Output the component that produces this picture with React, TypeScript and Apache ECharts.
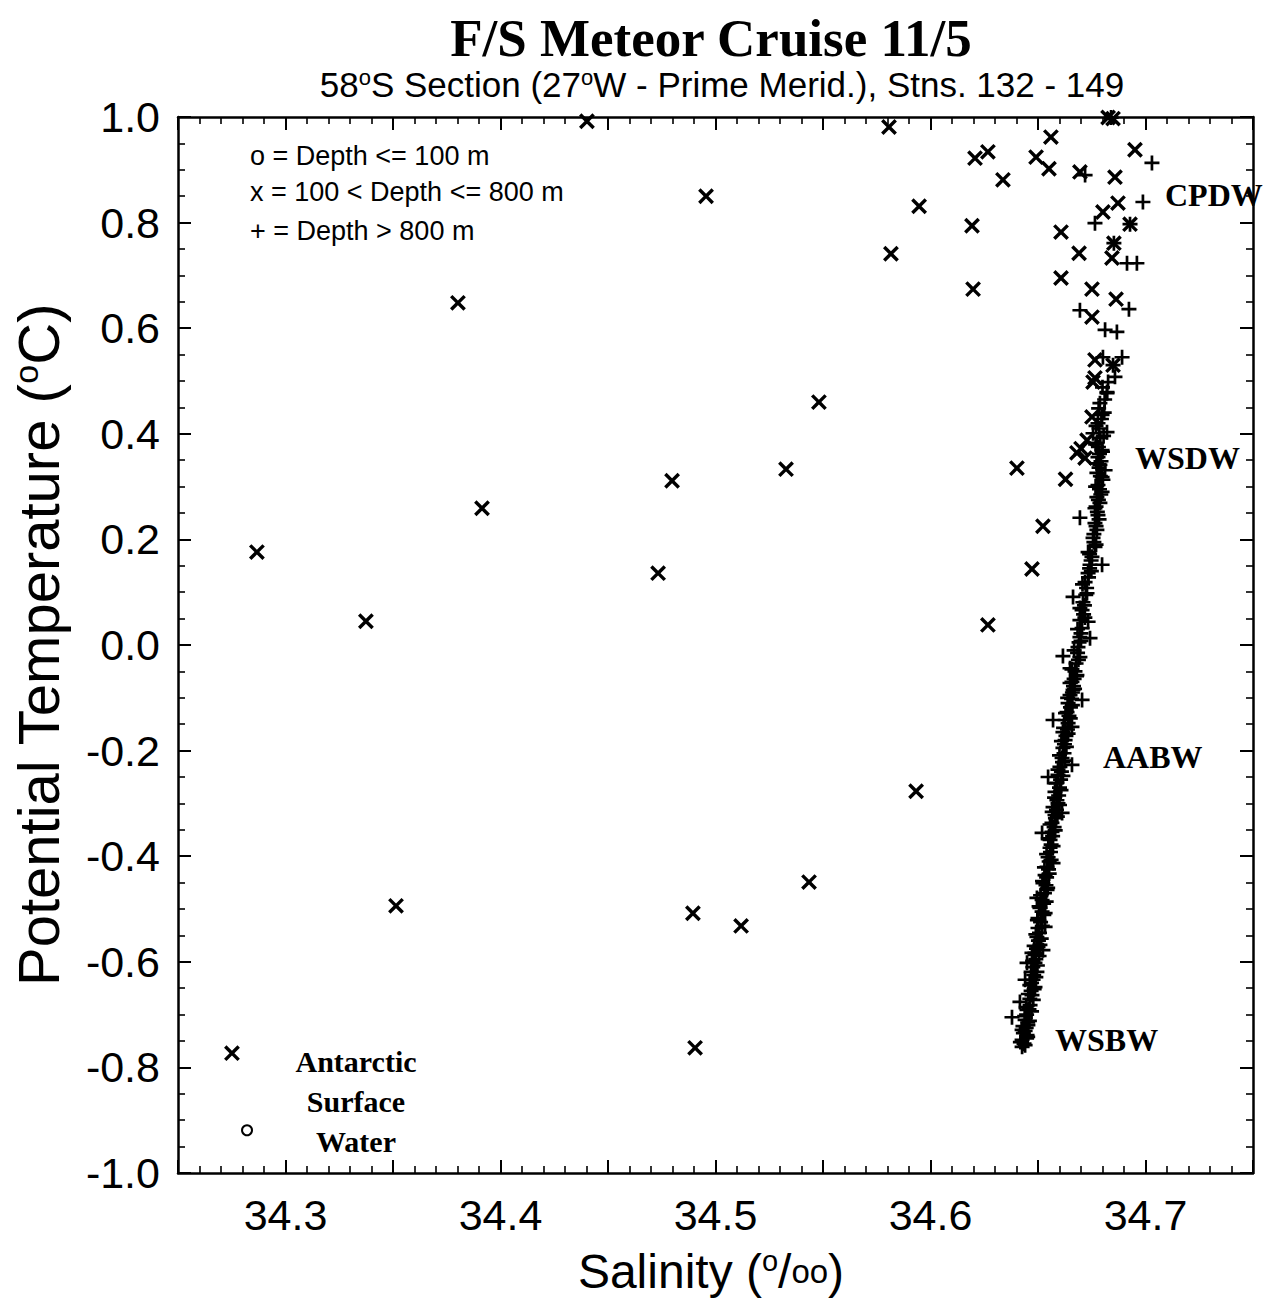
import React, { useEffect, useRef } from "react";
import * as echarts from "echarts";

// ---------- data (salinity, potential temperature) ----------
const shallowPoints: [number, number][] = [[34.2821, -0.919]];

const midPoints: [number, number][] = [
  [34.2751, -0.773], [34.2867, 0.176], [34.3374, 0.045], [34.3514, -0.494], [34.3802, 0.648],
  [34.3914, 0.259], [34.4402, 0.992], [34.4956, 0.850], [34.4798, 0.311], [34.4733, 0.136],
  [34.4895, -0.508], [34.4905, -0.763], [34.5119, -0.532], [34.5328, 0.333], [34.5481, 0.460],
  [34.5435, -0.449], [34.5807, 0.981], [34.5816, 0.741], [34.5947, 0.831], [34.5933, -0.277],
  [34.6193, 0.794], [34.6207, 0.922], [34.6267, 0.934], [34.6198, 0.674], [34.6337, 0.881],
  [34.6491, 0.924], [34.6560, 0.962], [34.6551, 0.902], [34.6402, 0.335], [34.6267, 0.038],
  [34.6472, 0.144], [34.6523, 0.225], [34.6607, 0.782], [34.6607, 0.695], [34.6691, 0.742],
  [34.6695, 0.896], [34.6858, 0.886], [34.6872, 0.837], [34.6951, 0.938], [34.6802, 0.820],
  [34.6928, 0.797], [34.6853, 0.761], [34.6844, 0.733], [34.6751, 0.674], [34.6863, 0.655],
  [34.6751, 0.621], [34.6765, 0.540], [34.6849, 0.530], [34.6765, 0.506], [34.6826, 0.999],
  [34.6849, 0.997], [34.6756, 0.498], [34.6751, 0.432], [34.6681, 0.364], [34.6719, 0.354],
  [34.6628, 0.314], [34.6728, 0.388], [34.6700, 0.372],
];

const deepPoints: [number, number][] = [
  [34.6840, 0.999], [34.6719, 0.890], [34.7030, 0.913], [34.6988, 0.839], [34.6765, 0.799],
  [34.6928, 0.797], [34.6853, 0.761], [34.6914, 0.723], [34.6960, 0.723], [34.6923, 0.636],
  [34.6695, 0.634], [34.6812, 0.597], [34.6867, 0.593], [34.6802, 0.545], [34.6849, 0.530],
  [34.6891, 0.545], [34.6858, 0.508], [34.6821, 0.479],
  [34.6826, 0.498], [34.6821, 0.477], [34.6788, 0.458], [34.6798, 0.436], [34.6779, 0.420],
  [34.6821, 0.403], [34.6756, 0.401], [34.6774, 0.383], [34.6798, 0.369], [34.6779, 0.356],
  [34.6788, 0.341], [34.6812, 0.331], [34.6774, 0.326], [34.6802, 0.313], [34.6779, 0.303],
  [34.6798, 0.290], [34.6774, 0.280], [34.6788, 0.269], [34.6765, 0.259], [34.6779, 0.246],
  [34.6695, 0.241], [34.6765, 0.231], [34.6774, 0.218], [34.6756, 0.203], [34.6765, 0.186],
  [34.6733, 0.176], [34.6751, 0.167], [34.6798, 0.152], [34.6742, 0.152], [34.6733, 0.136],
  [34.6719, 0.119], [34.6663, 0.091], [34.6728, 0.098], [34.6709, 0.081], [34.6705, 0.066],
  [34.6695, 0.047], [34.6733, 0.044], [34.6705, 0.032], [34.6695, 0.015], [34.6742, 0.013],
  [34.6686, -0.004], [34.6616, -0.021], [34.6695, -0.023],
  [34.6649, -0.044], [34.6681, -0.057], [34.6658, -0.070], [34.6663, -0.085], [34.6705, -0.104],
  [34.6649, -0.095], [34.6640, -0.110], [34.6635, -0.127], [34.6570, -0.142], [34.6626, -0.142],
  [34.6658, -0.155], [34.6616, -0.165], [34.6626, -0.180], [34.6616, -0.195], [34.6658, -0.227],
  [34.6612, -0.214], [34.6602, -0.231], [34.6547, -0.250], [34.6593, -0.246], [34.6588, -0.261],
  [34.6579, -0.278], [34.6588, -0.294], [34.6570, -0.307], [34.6612, -0.318], [34.6579, -0.322],
  [34.6565, -0.337], [34.6519, -0.356], [34.6565, -0.354], [34.6556, -0.369], [34.6556, -0.384],
  [34.6547, -0.402], [34.6570, -0.413], [34.6542, -0.420], [34.6533, -0.436], [34.6523, -0.451],
  [34.6542, -0.464], [34.6495, -0.479], [34.6519, -0.483], [34.6509, -0.498], [34.6533, -0.508],
  [34.6500, -0.517], [34.6533, -0.534], [34.6500, -0.536], [34.6495, -0.553], [34.6509, -0.568],
  [34.6472, -0.583], [34.6486, -0.583],
  [34.6500, -0.572], [34.6523, -0.578], [34.6486, -0.587], [34.6449, -0.602], [34.6486, -0.602],
  [34.6495, -0.619], [34.6477, -0.634], [34.6440, -0.634], [34.6486, -0.648], [34.6472, -0.663],
  [34.6463, -0.682], [34.6416, -0.676], [34.6449, -0.691], [34.6379, -0.705], [34.6440, -0.710],
  [34.6453, -0.720], [34.6426, -0.729], [34.6449, -0.739], [34.6426, -0.748], [34.6440, -0.758],
  [34.6426, -0.761],
  [34.6435, -0.755], [34.6447, -0.745], [34.6432, -0.735], [34.6445, -0.725], [34.6452, -0.715],
  [34.6447, -0.700], [34.6458, -0.690], [34.6462, -0.670], [34.6468, -0.655], [34.6470, -0.640],
  [34.6480, -0.625], [34.6476, -0.610], [34.6490, -0.595], [34.6493, -0.575], [34.6502, -0.560],
  [34.6507, -0.545], [34.6512, -0.525], [34.6519, -0.505], [34.6526, -0.490], [34.6530, -0.470],
  [34.6537, -0.455], [34.6540, -0.440], [34.6549, -0.425], [34.6552, -0.410], [34.6558, -0.392],
  [34.6561, -0.378], [34.6568, -0.362], [34.6575, -0.345], [34.6581, -0.328], [34.6586, -0.312],
  [34.6593, -0.300], [34.6596, -0.285], [34.6600, -0.270], [34.6605, -0.255], [34.6609, -0.240],
  [34.6614, -0.222], [34.6621, -0.205], [34.6623, -0.188], [34.6630, -0.172], [34.6637, -0.160],
  [34.6640, -0.148], [34.6644, -0.134], [34.6651, -0.118], [34.6656, -0.102], [34.6660, -0.090],
  [34.6665, -0.078], [34.6668, -0.064], [34.6672, -0.050], [34.6677, -0.035], [34.6684, -0.015],
  [34.6691, 0.005], [34.6700, 0.022], [34.6712, 0.058], [34.6716, 0.075], [34.6726, 0.108],
  [34.6735, 0.128], [34.6740, 0.145], [34.6747, 0.160], [34.6760, 0.195], [34.6770, 0.225],
  [34.6776, 0.252], [34.6781, 0.275], [34.6786, 0.295], [34.6790, 0.320], [34.6784, 0.336],
  [34.6793, 0.348], [34.6786, 0.362], [34.6781, 0.375], [34.6790, 0.392], [34.6784, 0.410],
  [34.6795, 0.428],
  [34.6418, -0.752], [34.6452, -0.742], [34.6440, -0.731], [34.6430, -0.722], [34.6460, -0.712],
  [34.6438, -0.703], [34.6470, -0.694], [34.6445, -0.686], [34.6478, -0.672], [34.6455, -0.661],
  [34.6482, -0.652], [34.6462, -0.644], [34.6490, -0.629], [34.6468, -0.619], [34.6497, -0.607],
  [34.6475, -0.598], [34.6505, -0.589], [34.6482, -0.570], [34.6515, -0.556], [34.6490, -0.548],
  [34.6520, -0.532], [34.6497, -0.521], [34.6527, -0.511], [34.6505, -0.495], [34.6538, -0.486],
  [34.6512, -0.474], [34.6545, -0.460], [34.6521, -0.447], [34.6552, -0.433], [34.6530, -0.421],
  [34.6561, -0.407], [34.6540, -0.396], [34.6570, -0.381], [34.6548, -0.366], [34.6580, -0.351],
  [34.6556, -0.340], [34.6590, -0.325], [34.6566, -0.316], [34.6600, -0.303], [34.6577, -0.289],
  [34.6607, -0.275], [34.6584, -0.262], [34.6616, -0.248], [34.6593, -0.236], [34.6625, -0.219],
  [34.6600, -0.209], [34.6632, -0.193], [34.6609, -0.182], [34.6640, -0.168], [34.6619, -0.157],
  [34.6650, -0.139], [34.6628, -0.129], [34.6660, -0.114], [34.6638, -0.100], [34.6670, -0.083],
  [34.6649, -0.072], [34.6679, -0.059], [34.6658, -0.046], [34.6688, -0.028], [34.6668, -0.010],
  [34.6700, 0.008], [34.6684, 0.030], [34.6718, 0.052], [34.6695, 0.070], [34.6722, 0.095],
  [34.6707, 0.115], [34.6748, 0.140], [34.6740, 0.172], [34.6770, 0.190], [34.6760, 0.210],
  [34.6784, 0.238], [34.6770, 0.262], [34.6792, 0.285], [34.6768, 0.300], [34.6798, 0.318],
  [34.6772, 0.344], [34.6800, 0.366], [34.6768, 0.380], [34.6805, 0.396], [34.6770, 0.415],
  [34.6808, 0.440], [34.6782, 0.448], [34.6810, 0.465], [34.6800, 0.488],
];

const titleText = "F/S Meteor Cruise 11/5";
const subtitleRich = "58{s|o}S Section (27{s|o}W - Prime Merid.), Stns. 132 - 149";
const legendLines = ["o = Depth <= 100 m", "x = 100 < Depth <= 800 m", "+ = Depth > 800 m"];
const waterMasses = ["CPDW", "WSDW", "AABW", "WSBW"];
const surfaceLines = ["Antarctic", "Surface", "Water"];

// ---------- styling ----------
const SANS = "Liberation Sans, Arial, sans-serif";
const SERIF = "Liberation Serif, Times New Roman, serif";
const PLUS = "path://M4.1,0H5.9V4.1H10V5.9H5.9V10H4.1V5.9H0V4.1H4.1Z";
const CROSS = "path://M4.1,0H5.9V4.1H10V5.9H5.9V10H4.1V5.9H0V4.1H4.1Z";

const axisLineStyle = { show: true, onZero: false, lineStyle: { color: "#000", width: 2.5 } };

function xAxisDef(position: "bottom" | "top", showLabels: boolean) {
  return {
    type: "value",
    position,
    min: 34.25,
    max: 34.75,
    interval: 0.05,
    axisLine: axisLineStyle,
    axisTick: { show: true, inside: true, length: 13, lineStyle: { color: "#000", width: 2 } },
    minorTick: { show: true, splitNumber: 5, length: 7, lineStyle: { color: "#000", width: 1.6 } },
    splitLine: { show: false },
    minorSplitLine: { show: false },
    axisLabel: {
      show: showLabels,
      fontSize: 43,
      fontFamily: SANS,
      color: "#000",
      margin: 20,
      formatter: (v: number) => {
        const k = Math.round(v * 100);
        return k % 10 === 0 ? (k / 100).toFixed(1) : "";
      },
    },
  };
}

function yAxisDef(position: "left" | "right", showLabels: boolean) {
  return {
    type: "value",
    position,
    min: -1,
    max: 1,
    interval: 0.2,
    axisLine: axisLineStyle,
    axisTick: { show: true, inside: true, length: 13, lineStyle: { color: "#000", width: 2 } },
    minorTick: { show: true, splitNumber: 4, length: 7, lineStyle: { color: "#000", width: 1.6 } },
    splitLine: { show: false },
    minorSplitLine: { show: false },
    axisLabel: {
      show: showLabels,
      fontSize: 43,
      fontFamily: SANS,
      color: "#000",
      margin: 18,
      formatter: (v: number) => (Math.abs(v) < 1e-9 ? "0.0" : v.toFixed(1)),
    },
  };
}

function txt(
  text: string,
  x: number,
  y: number,
  font: { size: number; family: string; weight?: string },
  align: "left" | "center" | "right" = "left",
  extra: any = {}
) {
  const { styleExtra, ...rest } = extra;
  return {
    type: "text",
    x,
    y,
    ...rest,
    style: {
      text,
      fontSize: font.size,
      fontFamily: font.family,
      fontWeight: font.weight || "normal",
      fill: "#000",
      align,
      verticalAlign: "middle",
      textAlign: align,
      textVerticalAlign: "middle",
      ...(styleExtra || {}),
    },
  };
}

export default function App() {
  const ref = useRef<HTMLDivElement>(null);

  useEffect(() => {
    document.body.style.margin = "0";
    document.body.style.overflow = "hidden";
    const chart = echarts.init(ref.current!, null, { renderer: "svg" });

    const waterMassPos = [
      [1165, 195],
      [1135, 458],
      [1103, 757],
      [1055, 1040],
    ];
    const surfacePos = [1061, 1101, 1141];
    const legendPos = [156, 192, 231];

    const graphic: any[] = [
      txt(titleText, 711, 38, { size: 53, family: SERIF, weight: "bold" }, "center"),
      txt(subtitleRich, 722, 84, { size: 35, family: SANS }, "center", {
        styleExtra: {
          rich: {
            s: { fontSize: 22, fontFamily: SANS, padding: [0, 0, 14, 0] },
          },
        },
      }),
      txt("Salinity ({s|o}/{o|oo})", 711, 1271, { size: 48, family: SANS }, "center", {
        styleExtra: {
          rich: {
            s: { fontSize: 29, fontFamily: SANS, padding: [0, 0, 20, 0] },
            o: { fontSize: 33, fontFamily: SANS },
          },
        },
      }),
      txt("Potential Temperature ({s|o}C)", 38, 645, { size: 58, family: SANS }, "center", {
        rotation: Math.PI / 2,
        styleExtra: {
          rich: {
            s: { fontSize: 34, fontFamily: SANS, padding: [0, 0, 24, 0] },
          },
        },
      }),
      ...legendLines.map((t, i) => txt(t, 250, legendPos[i], { size: 27, family: SANS }, "left")),
      ...waterMasses.map((t, i) =>
        txt(t, waterMassPos[i][0], waterMassPos[i][1], { size: 32, family: SERIF, weight: "bold" }, "left")
      ),
      ...surfaceLines.map((t, i) =>
        txt(t, 356, surfacePos[i], { size: 30, family: SERIF, weight: "bold" }, "center")
      ),
    ];

    chart.setOption({
      animation: false,
      backgroundColor: "#fff",
      grid: { left: 178, top: 117, width: 1075, height: 1056, containLabel: false },
      xAxis: [xAxisDef("bottom", true), xAxisDef("top", false)],
      yAxis: [yAxisDef("left", true), yAxisDef("right", false)],
      series: [
        {
          type: "scatter",
          name: "deep",
          data: deepPoints,
          xAxisIndex: 0,
          yAxisIndex: 0,
          symbol: PLUS,
          symbolSize: 15,
          clip: false,
          itemStyle: { color: "#000", opacity: 1 },
        },
        {
          type: "scatter",
          name: "mid",
          data: midPoints,
          xAxisIndex: 0,
          yAxisIndex: 0,
          symbol: CROSS,
          symbolRotate: 45,
          symbolSize: 19,
          clip: false,
          itemStyle: { color: "#000", opacity: 1 },
        },
        {
          type: "scatter",
          name: "shallow",
          data: shallowPoints,
          xAxisIndex: 0,
          yAxisIndex: 0,
          symbol: "emptyCircle",
          symbolSize: 10,
          clip: false,
          itemStyle: { color: "#000", borderColor: "#000", borderWidth: 1.5, opacity: 1 },
        },
      ],
      graphic,
    });

    return () => chart.dispose();
  }, []);

  return <div ref={ref} style={{ width: 1264, height: 1301 }} />;
}
